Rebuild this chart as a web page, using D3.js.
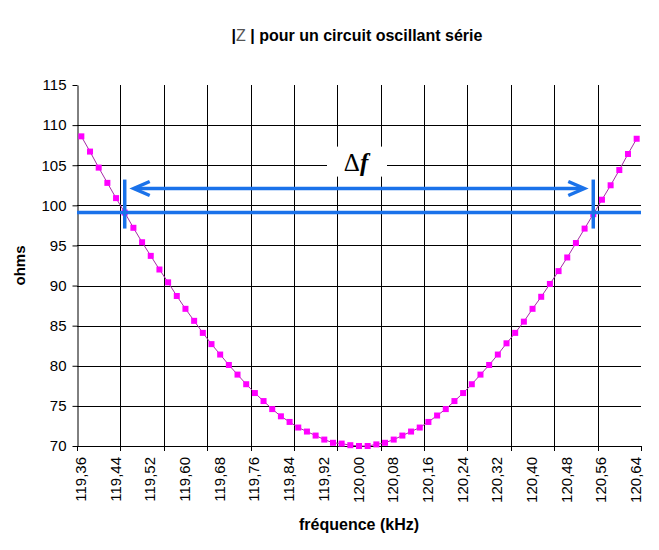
<!DOCTYPE html>
<html lang="fr">
<head>
    <meta charset="UTF-8">
    <title>|Z| circuit oscillant série</title>
    <style>
        body {
            margin: 0;
            background: #fff;
        }
        svg {
            display: block;
        }
        .tick-label {
            font-family: "Liberation Sans", Arial, sans-serif;
            font-size: 15px;
            fill: #000;
        }
        .axis-title {
            font-family: "Liberation Sans", Arial, sans-serif;
            font-size: 16px;
            font-weight: bold;
        }
    </style>
</head>
<body>

<svg id="chart" width="659" height="550"></svg>

<script src="https://d3js.org/d3.v7.min.js"></script>
<script>
    // frequencies (kHz), one per point
    const freqs = [
        119.36, 119.38, 119.40, 119.42, 119.44, 119.46, 119.48, 119.50, 119.52, 119.54,
        119.56, 119.58, 119.60, 119.62, 119.64, 119.66, 119.68, 119.70, 119.72, 119.74,
        119.76, 119.78, 119.80, 119.82, 119.84, 119.86, 119.88, 119.90, 119.92, 119.94,
        119.96, 119.98, 120.00, 120.02, 120.04, 120.06, 120.08, 120.10, 120.12, 120.14,
        120.16, 120.18, 120.20, 120.22, 120.24, 120.26, 120.28, 120.30, 120.32, 120.34,
        120.36, 120.38, 120.40, 120.42, 120.44, 120.46, 120.48, 120.50, 120.52, 120.54,
        120.56, 120.58, 120.60, 120.62, 120.64
    ];

    // |Z| in ohms
    const impedance = [
        108.6, 106.7, 104.7, 102.8, 100.9, 99.1, 97.2, 95.4, 93.7, 92.0,
        90.4, 88.7, 87.1, 85.6, 84.1, 82.7, 81.4, 80.1, 78.9, 77.7,
        76.6, 75.6, 74.6, 73.7, 73.0, 72.3, 71.8, 71.3, 70.8, 70.4,
        70.3, 70.1, 70.0, 70.0, 70.2, 70.4, 70.8, 71.3, 71.8, 72.3,
        73.0, 73.8, 74.6, 75.6, 76.6, 77.7, 78.9, 80.1, 81.4, 82.8,
        84.1, 85.5, 87.1, 88.6, 90.2, 91.8, 93.5, 95.3, 97.1, 98.9,
        100.7, 102.5, 104.4, 106.4, 108.3
    ];

    const xTickLabels = [
        "119,36", "119,44", "119,52", "119,60", "119,68", "119,76", "119,84", "119,92",
        "120,00", "120,08", "120,16", "120,24", "120,32", "120,40", "120,48", "120,56", "120,64"
    ];
    const yTicks = [70, 75, 80, 85, 90, 95, 100, 105, 110, 115];

    // bandwidth annotation (kHz / ohms)
    const bandLevel = 99.1;
    const arrowLevel = 102.1;
    const bandEdges = [119.46, 120.54];

    const margin = {top: 85, right: 18, bottom: 104, left: 77};
    const width = 659 - margin.left - margin.right;
    const height = 550 - margin.top - margin.bottom;
    const blue = "#1a72ea";

    const svg = d3.select("#chart");
    const g = svg.append("g").attr("transform", `translate(${margin.left},${margin.top})`);

    const x = d3.scaleBand().domain(freqs).range([0, width]).padding(0);
    const bw = x.bandwidth();
    const cx = f => x(f) + bw / 2;
    // continuous frequency -> pixel, aligned with the category centres
    const fx = d3.scaleLinear()
        .domain([freqs[0], freqs[freqs.length - 1]])
        .range([cx(freqs[0]), cx(freqs[freqs.length - 1])]);
    const y = d3.scaleLinear().domain([70, 115]).range([height, 0]);

    // horizontal grid (no line at the top)
    g.append("g")
        .selectAll("line")
        .data(yTicks.filter(v => v > 70 && v < 115))
        .enter()
        .append("line")
        .attr("x1", 0).attr("x2", width)
        .attr("y1", d => Math.round(y(d)) + 0.5)
        .attr("y2", d => Math.round(y(d)) + 0.5)
        .attr("stroke", "#000");

    // vertical grid every 5 categories
    const boundaries = d3.range(0, freqs.length + 1, 5);
    g.append("g")
        .selectAll("line")
        .data(boundaries.filter(i => i > 0 && i < freqs.length))
        .enter()
        .append("line")
        .attr("x1", i => Math.round(i * bw) + 0.5)
        .attr("x2", i => Math.round(i * bw) + 0.5)
        .attr("y1", 0).attr("y2", height)
        .attr("stroke", "#000");

    // y axis
    const yAxis = g.append("g")
        .attr("transform", "translate(0.5,0)")
        .call(d3.axisLeft(y).tickValues(yTicks).tickSizeInner(5).tickSizeOuter(0).tickPadding(6));
    yAxis.select(".domain").attr("stroke", "#000");
    yAxis.selectAll(".tick line").attr("stroke", "#000");
    yAxis.selectAll(".tick text")
        .attr("class", "tick-label")
        .style("font-family", "\"Liberation Sans\", Arial, sans-serif")
        .style("font-size", "15px");

    // x axis line + ticks at category boundaries
    g.append("line")
        .attr("x1", 0).attr("x2", width)
        .attr("y1", height + 0.5).attr("y2", height + 0.5)
        .attr("stroke", "#000");
    g.append("g")
        .selectAll("line")
        .data(boundaries)
        .enter()
        .append("line")
        .attr("x1", i => Math.round(i * bw) + 0.5)
        .attr("x2", i => Math.round(i * bw) + 0.5)
        .attr("y1", height).attr("y2", height + 5)
        .attr("stroke", "#000");

    // rotated x labels every 4 categories
    const labelled = freqs.filter((f, i) => i % 4 === 0);
    g.append("g")
        .selectAll("text")
        .data(labelled)
        .enter()
        .append("text")
        .attr("class", "tick-label")
        .attr("transform", d => `translate(${cx(d) - 1},${height + 11}) rotate(-90)`)
        .attr("text-anchor", "end")
        .attr("dominant-baseline", "central")
        .text((d, i) => xTickLabels[i]);

    // curve
    const line = d3.line()
        .x((d, i) => cx(freqs[i]))
        .y(d => y(d));
    g.append("path")
        .datum(impedance)
        .attr("fill", "none")
        .attr("stroke", "#a62aa6")
        .attr("stroke-width", 1)
        .attr("d", line);

    g.append("g")
        .selectAll("rect")
        .data(impedance)
        .enter()
        .append("rect")
        .attr("x", (d, i) => cx(freqs[i]) - 3)
        .attr("y", d => y(d) - 3)
        .attr("width", 6)
        .attr("height", 6)
        .attr("fill", "#ff00ff");

    // bandwidth annotation
    const ann = g.append("g").attr("stroke", blue).attr("fill", "none");
    ann.append("line")
        .attr("x1", 0).attr("x2", width)
        .attr("y1", y(bandLevel)).attr("y2", y(bandLevel))
        .attr("stroke-width", 3.5);
    ann.selectAll(".edge")
        .data(bandEdges)
        .enter()
        .append("line")
        .attr("class", "edge")
        .attr("x1", d => fx(d)).attr("x2", d => fx(d))
        .attr("y1", y(bandLevel) - 33).attr("y2", y(bandLevel) + 16)
        .attr("stroke-width", 3.5);

    const ay = y(arrowLevel);
    const a0 = fx(bandEdges[0]) + 9;
    const a1 = fx(bandEdges[1]) - 9;
    ann.append("line")
        .attr("x1", a0 + 1).attr("x2", a1 - 1)
        .attr("y1", ay).attr("y2", ay)
        .attr("stroke-width", 3.5);
    ann.append("path")
        .attr("d", `M${a0 + 16},${ay - 7} L${a0},${ay} L${a0 + 16},${ay + 7}`)
        .attr("stroke-width", 3.5);
    ann.append("path")
        .attr("d", `M${a1 - 16},${ay - 7} L${a1},${ay} L${a1 - 16},${ay + 7}`)
        .attr("stroke-width", 3.5);

    // delta f label on a white box
    const lx = fx(120.00) - 3;
    const ly = y(105.2);
    g.append("rect")
        .attr("x", lx - 29).attr("y", ly - 17)
        .attr("width", 60).attr("height", 30)
        .attr("fill", "#fff");
    const df = g.append("text")
        .attr("x", lx)
        .attr("y", ly + 7)
        .attr("text-anchor", "middle")
        .style("font-family", "\"Liberation Serif\", \"Times New Roman\", serif")
        .style("font-size", "25px");
    df.append("tspan").text("Δ");
    df.append("tspan").style("font-style", "italic").style("font-weight", "bold").text("f");

    // titles
    const title = svg.append("text")
        .attr("x", 357)
        .attr("y", 41)
        .attr("text-anchor", "middle")
        .attr("class", "axis-title");
    title.append("tspan").text("|");
    title.append("tspan").attr("fill", "#555").style("font-weight", "normal").text("Z");
    title.append("tspan").text(" | pour un circuit oscillant série");

    svg.append("text")
        .attr("class", "axis-title")
        .attr("x", margin.left + width / 2)
        .attr("y", 530)
        .attr("text-anchor", "middle")
        .text("fréquence (kHz)");

    svg.append("text")
        .attr("class", "axis-title")
        .attr("transform", `translate(25,${margin.top + height / 2}) rotate(-90)`)
        .attr("text-anchor", "middle")
        .style("font-size", "15px")
        .text("ohms");
</script>

</body>
</html>
